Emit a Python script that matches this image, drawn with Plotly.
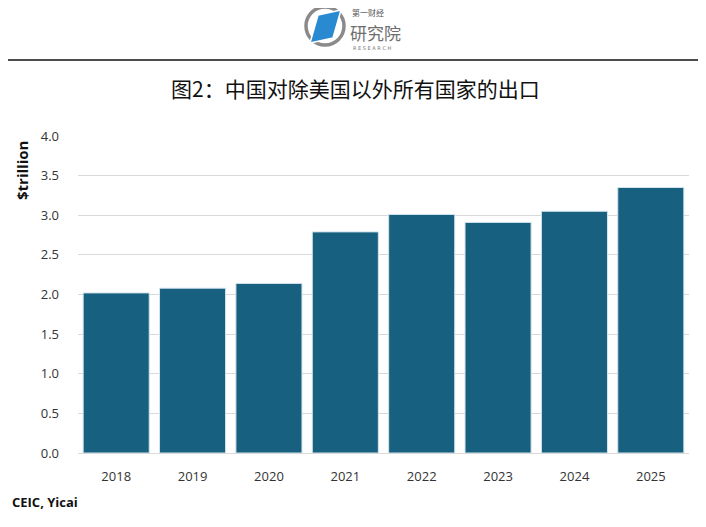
import plotly.graph_objects as go

years = ["2018", "2019", "2020", "2021", "2022", "2023", "2024", "2025"]
exports_trillion = [2.02, 2.08, 2.14, 2.79, 3.01, 2.91, 3.05, 3.35]
y_ticks = [0.0, 0.5, 1.0, 1.5, 2.0, 2.5, 3.0, 3.5, 4.0]
y_tick_labels = ["0.0", "0.5", "1.0", "1.5", "2.0", "2.5", "3.0", "3.5", "4.0"]

title_text = "图2：中国对除美国以外所有国家的出口"
y_title = "$trillion"
source_text = "CEIC, Yicai"

OFF = 8  # page body margin
W, H = 706 - OFF, 527 - OFF
# plot area in screen pixels
L, R, T, B = 78, 689, 136, 453


def px(x):
    return (x - L) / (R - L)


def py(y):
    return (B - y) / (B - T)


fig = go.Figure()
fig.add_trace(go.Bar(
    x=years, y=exports_trillion,
    marker=dict(color="#17607F", line=dict(color="#d3e4ec", width=1)),
    hoverinfo="x+y",
))

tick_font = dict(family="Open Sans, Liberation Sans, sans-serif", size=13, color="#333333")

fig.update_layout(
    width=W, height=H,
    margin=dict(l=L - OFF, r=(W + OFF) - R, t=T - OFF, b=(H + OFF) - B, pad=0),
    paper_bgcolor="white", plot_bgcolor="white",
    bargap=0.135,
    showlegend=False,
    xaxis=dict(
        type="category", tickfont=tick_font, showgrid=False,
        showline=True, linecolor="#d9d9d9", linewidth=1,
        ticks="", ticklabelstandoff=11, fixedrange=True,
    ),
    yaxis=dict(
        range=[0, 4.0], tickvals=y_ticks, ticktext=y_tick_labels,
        tickfont=tick_font, showgrid=True, gridcolor="#d9d9d9", gridwidth=1,
        zeroline=False, showline=False, ticks="", ticklabelstandoff=18,
        fixedrange=True,
    ),
)

annotations = [
    dict(text=title_text, x=px(355), y=py(88), xref="paper", yref="paper",
         showarrow=False, xanchor="center", yanchor="middle",
         font=dict(family="Noto Sans CJK SC", size=21, color="#111111")),
    dict(text="<b>" + y_title + "</b>", x=px(22), y=py(171), xref="paper", yref="paper",
         showarrow=False, textangle=-90, xanchor="center", yanchor="middle",
         font=dict(family="Open Sans, Liberation Sans, sans-serif", size=15, color="#111111")),
    dict(text="<b>" + source_text + "</b>", x=px(10), y=py(502), xref="paper", yref="paper",
         showarrow=False, xanchor="left", yanchor="middle",
         font=dict(family="Open Sans, Liberation Sans, sans-serif", size=13, color="#111111")),
    # logo text
    dict(text="第一财经", x=px(350), y=py(13), xref="paper", yref="paper",
         showarrow=False, xanchor="left", yanchor="middle",
         font=dict(family="Noto Sans CJK SC", size=8, color="#555555")),
    dict(text="研究院", x=px(348), y=py(32), xref="paper", yref="paper",
         showarrow=False, xanchor="left", yanchor="middle",
         font=dict(family="Noto Sans CJK SC", size=17, color="#6e6e6e")),
    dict(text="R E S E A R C H", x=px(351), y=py(48), xref="paper", yref="paper",
         showarrow=False, xanchor="left", yanchor="middle",
         font=dict(family="DejaVu Sans", size=5, color="#777777")),
]
fig.update_layout(annotations=annotations)

shapes = [
    # separator line
    dict(type="line", xref="paper", yref="paper", x0=px(0), x1=px(706), y0=py(60), y1=py(60),
         line=dict(color="#111111", width=1.5)),
    # logo circle
    dict(type="circle", xref="paper", yref="paper", x0=px(306), x1=px(344), y0=py(7), y1=py(45),
         line=dict(color="#8a8a8a", width=3.5), fillcolor="rgba(0,0,0,0)"),
]
# logo blue parallelogram
pts = [(318, 15), (341, 10), (333, 38), (310, 43)]
path = "M " + " L ".join(f"{px(x)},{py(y)}" for x, y in pts) + " Z"
shapes.append(dict(type="path", xref="paper", yref="paper", path=path,
                   fillcolor="#2a8ad1", line=dict(color="white", width=1.5)))
fig.update_layout(shapes=shapes)

fig.write_html("out.html")
